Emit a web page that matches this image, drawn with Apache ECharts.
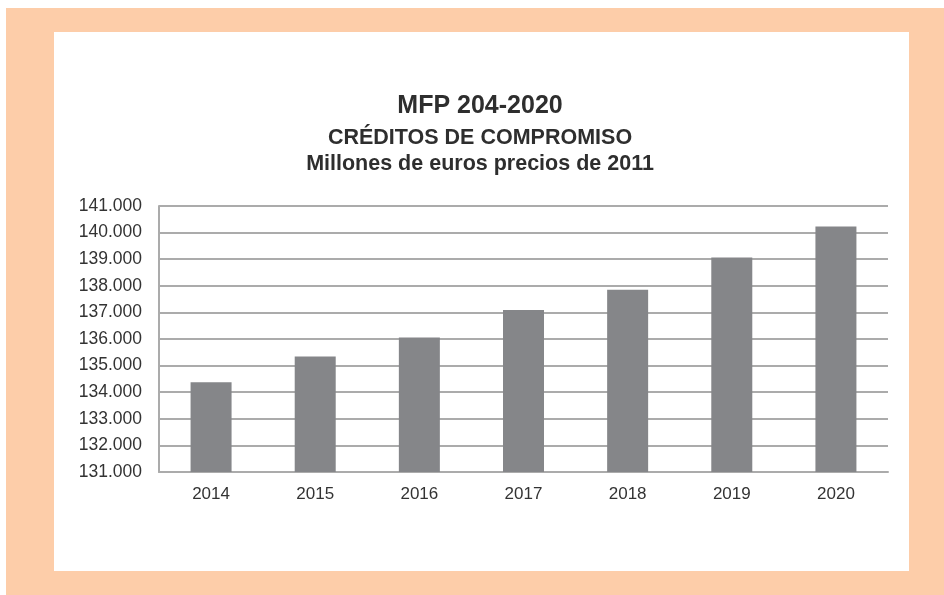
<!DOCTYPE html>
<html>
<head>
<meta charset="utf-8">
<script src="https://cdn.jsdelivr.net/npm/echarts@6/dist/echarts.min.js"></script>
<style>
html,body{margin:0;padding:0;background:#fff;}
#chart{width:944px;height:595px;}
</style>
</head>
<body>
<div id="chart"></div>
<script>
const titleLines = ['MFP 204-2020', 'CRÉDITOS DE COMPROMISO', 'Millones de euros precios de 2011'];
const categories = ['2014', '2015', '2016', '2017', '2018', '2019', '2020'];
const values = [134375, 135340, 136060, 137090, 137850, 139060, 140225];
const yMin = 131000;
const yMax = 141000;
const yStep = 1000;

function fmt(v) {
  return String(v).replace(/\B(?=(\d{3})+(?!\d))/g, '.');
}

const chart = echarts.init(document.getElementById('chart'), null, {renderer: 'canvas'});
const font = '"Liberation Sans", Arial, sans-serif';
chart.setOption({
  backgroundColor: '#ffffff',
  animation: false,
  graphic: [
    {type: 'rect', z: -100, silent: true, shape: {x: 6, y: 8, width: 938, height: 587}, style: {fill: '#FDCDA9'}},
    {type: 'rect', z: -99, silent: true, shape: {x: 54, y: 32, width: 855, height: 539}, style: {fill: '#ffffff'}}
  ],
  title: [
    {text: titleLines[0], left: 475, top: 89, textAlign: 'center',
     textStyle: {fontFamily: font, fontSize: 25, fontWeight: 'bold', color: '#2e2e2e'}},
    {text: titleLines[1], left: 475, top: 122, textAlign: 'center',
     textStyle: {fontFamily: font, fontSize: 21.5, fontWeight: 'bold', color: '#2e2e2e'}},
    {text: titleLines[2], left: 475, top: 148, textAlign: 'center',
     textStyle: {fontFamily: font, fontSize: 21.5, fontWeight: 'bold', color: '#2e2e2e'}}
  ],
  grid: {left: 159, right: 56, top: 206, bottom: 123, containLabel: false},
  xAxis: {
    type: 'category',
    data: categories,
    axisLine: {show: true, lineStyle: {color: '#ababab', width: 2}},
    axisTick: {show: false},
    axisLabel: {margin: 14, fontFamily: font, fontSize: 17, color: '#333333'}
  },
  yAxis: {
    type: 'value',
    min: yMin,
    max: yMax,
    interval: yStep,
    axisLine: {show: true, lineStyle: {color: '#ababab', width: 2}},
    axisTick: {show: false},
    splitLine: {show: true, lineStyle: {color: '#ababab', width: 2}},
    axisLabel: {margin: 17, fontFamily: font, fontSize: 17.5, color: '#333333', formatter: fmt}
  },
  series: [{
    type: 'bar',
    data: values,
    barWidth: 41,
    itemStyle: {color: '#858689'}
  }]
});
</script>
</body>
</html>
